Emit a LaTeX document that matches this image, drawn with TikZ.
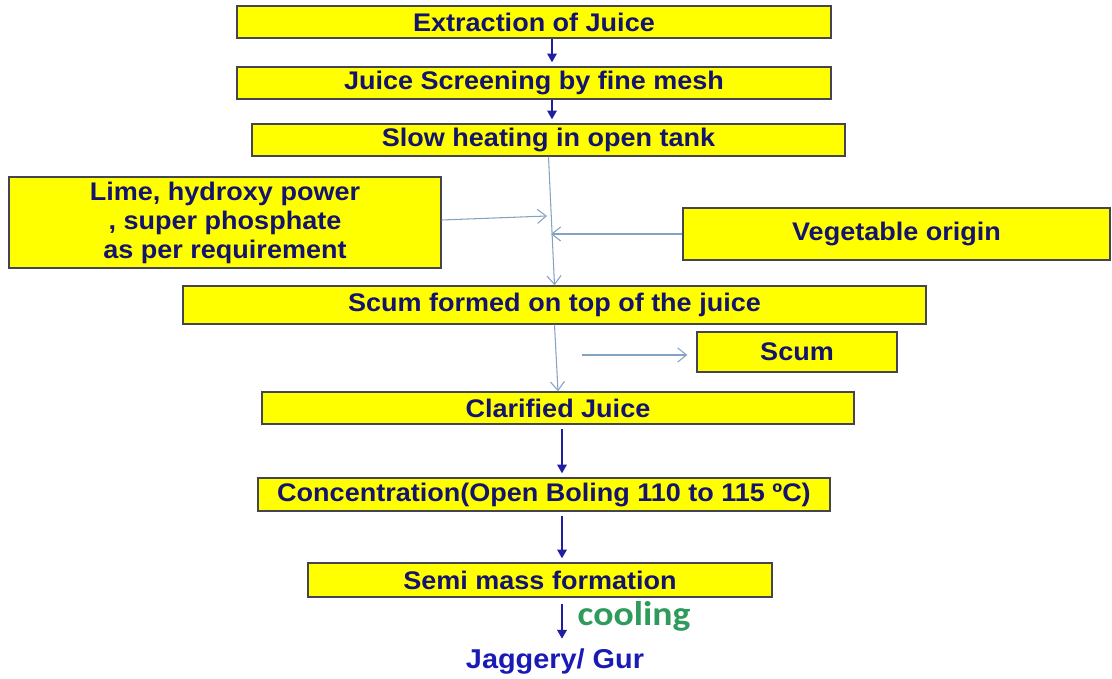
\documentclass[tikz,border=0pt]{standalone}
\usepackage{fontspec}
\setmainfont{Liberation Sans}
\newfontfamily\boxfont[FakeStretch=1.06]{Liberation Sans}
\newfontfamily\coolfont[FakeStretch=1.1]{Carlito}
\usetikzlibrary{arrows.meta}
\definecolor{cyel}{HTML}{FFFF00}
\definecolor{cedge}{HTML}{45454F}
\definecolor{cnavy}{HTML}{14146E}
\definecolor{cblue}{HTML}{1A1AB4}
\definecolor{cline}{HTML}{1F1FA0}
\definecolor{csteel}{HTML}{84A2C2}
\definecolor{cgreen}{HTML}{2E9A5C}
\tikzset{
  every picture/.style={line width=0.8pt},
  stage/.style={draw=cedge, fill=cyel, align=center, inner sep=0pt, text=cnavy,
    font=\boxfont\bfseries\fontsize{14.5}{16.5}\selectfont},
  flow/.style={-{Triangle[length=5pt, width=5.5pt]}, draw=cline, line width=0.8pt, shorten >=0.08cm},
  feed/.style={-{Straight Barb[length=5pt, width=8pt]}, draw=csteel, line width=0.6pt},
}

\begin{document}
\begin{tikzpicture}[x=0.02cm, y=-0.02cm]
  \useasboundingbox (0,0) rectangle (1112,679);
  % ---- main line of stages
  \node[stage, minimum width=11.88cm, minimum height=0.64cm] (juice) at (534,22) {Extraction of Juice};
  \node[stage, minimum width=11.88cm, minimum height=0.64cm] (screen) at (534,83) {Juice Screening by fine mesh};
  \node[stage, minimum width=11.86cm, minimum height=0.64cm] (heat) at (548.5,140) {Slow heating in open tank};
  \node[stage, minimum width=14.86cm, minimum height=0.76cm] (scumf) at (554.5,305) {Scum formed on top of the juice};
  \node[stage, minimum width=11.84cm, minimum height=0.64cm] (clar) at (558,408) {Clarified Juice};
  \node[stage, minimum width=11.44cm, minimum height=0.66cm] (conc) at (544,494.5) {Concentration(Open Boling 110 to 115 ºC)};
  \node[stage, minimum width=9.28cm, minimum height=0.68cm] (semi) at (540,580) {Semi mass formation};
  \node[font=\boxfont\bfseries\fontsize{15.5}{16}\selectfont, text=cblue] (gur) at (555,662) {Jaggery/ Gur};
  % ---- side boxes
  \node[stage, minimum width=8.64cm, minimum height=1.82cm] (lime) at (225,222.5) {Lime, hydroxy power\\, super phosphate\\as per requirement};
  \node[stage, minimum width=8.54cm, minimum height=1.04cm] (veg) at (896.5,234) {Vegetable origin};
  \node[stage, minimum width=4cm, minimum height=0.8cm] (scum) at (797,352) {Scum};
  \node[font=\coolfont\bfseries\fontsize{19.5}{20}\selectfont, text=cgreen] (cool) at (634,616) {cooling};
  % ---- dark arrows
  \coordinate (spine) at (552,0);
  \coordinate (spine2) at (562,0);
  \draw[flow] (juice.south -| spine) -- (screen.north -| spine);
  \draw[flow] (screen.south -| spine) -- (heat.north -| spine);
  \draw[flow] ([yshift=-0.08cm]clar.south -| spine2) -- (conc.north -| spine2);
  \draw[flow] ([yshift=-0.08cm]conc.south -| spine2) -- (semi.north -| spine2);
  \draw[flow] ([yshift=-0.12cm]semi.south -| spine2) -- (gur.north -| spine2);
  % ---- light arrows
  \coordinate (limein) at (547,216);
  \coordinate (vegin) at (551,234);
  \coordinate (scumout) at (582,355);
  \draw[feed] (heat.south) -- (scumf.north);
  \draw[feed] (lime.east |- 0,220) -- (limein);
  \draw[feed] (veg.west) -- (vegin);
  \draw[feed] (scumf.south) -- (clar.north);
  \draw[feed, shorten >=0.18cm] (scumout) -- (scumout -| scum.west);
\end{tikzpicture}
\end{document}
